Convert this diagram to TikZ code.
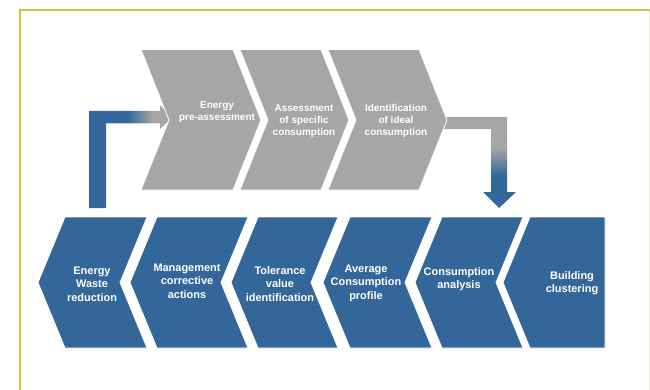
\documentclass[tikz,border=0pt]{standalone}
\usepackage{fontspec}
\setmainfont{Liberation Sans}
\usetikzlibrary{calc}

\definecolor{stepgray}{HTML}{A6A6A6}
\definecolor{stepblue}{HTML}{346799}
\definecolor{framegreen}{HTML}{C8C832}
\definecolor{framepale}{HTML}{E8E8BC}

% gradients of the two bent arrows
\pgfdeclarehorizontalshading{returnshade}{100bp}{color(0bp)=(stepblue); color(48bp)=(stepblue); color(63bp)=(stepgray); color(100bp)=(stepgray)}
\pgfdeclareverticalshading{forwardshade}{100bp}{color(0bp)=(stepblue); color(43bp)=(stepblue); color(58bp)=(stepgray); color(100bp)=(stepgray)}

\begin{document}
\begin{tikzpicture}[x=1bp,y=-1bp,
  topstep/.style={fill=stepgray, draw=white, line width=0.8bp},
  botstep/.style={fill=stepblue, draw=white, line width=0.8bp},
  toptext/.style={text=white, font=\fontsize{10}{12}\selectfont\bfseries, align=center, inner sep=0},
  bottext/.style={text=white, font=\fontsize{11}{13.5}\selectfont\bfseries, align=center, inner sep=0}]

\useasboundingbox (0,0) rectangle (650,389);

% frame
\draw[framegreen, line width=1.8bp] (19.8,400) -- (19.8,10.2) -- (652,10.2);
\draw[framepale, line width=0.8bp] (649.3,11) -- (649.3,400);

% end points of the bent arrows
\coordinate (back-foot) at (97.5,208);
\coordinate (back-tip) at (173,117);
\coordinate (fwd-tip) at (499,208);
\coordinate (ideal-tip) at (447,120);

% bent arrows (drawn first, the steps cover their ends)
\shade[shading=returnshade] ($(back-foot)+(-8.5,0)$) |- ($(back-tip)+(-13,-6.25)$) -- ++(0,-5.5)
  -- (back-tip) -- ++(-13,12) -- ++(0,-5.75) -| ($(back-foot)+(8.5,0)$) -- cycle;
\shade[shading=forwardshade] ($(ideal-tip)+(-10,-3)$) -| ($(fwd-tip)+(8,-16)$) -- ++(9,0)
  -- (fwd-tip) -- ++(-16,-16) -- ++(8,0) |- ($(ideal-tip)+(-10,9)$) -- cycle;

% upper row: assessment steps
\foreach \n/\xl/\xr/\tx/\ty/\txt in {
  pre/141/233/217/112/Energy\\pre-assessment,
  spec/240/321/304/121/Assessment\\of specific\\consumption,
  ideal/328/419/396/121/Identification\\of ideal\\consumption}{
  \draw[topstep] (\xl,49.5) -- (\xr,49.5) -- (\xr+28,120) -- (\xr,190) -- (\xl,190) -- (\xl+28,120) -- cycle;
  \node[toptext] (\n) at (\tx,\ty) {\txt};
}

% lower row: analysis steps, running right to left
\foreach \n/\xl/\xr/\nd/\tx/\ty/\txt in {
  waste/65/147/27/92/284/Energy\\Waste\\reduction,
  manage/157/248/27/187/281/Management\\corrective\\actions,
  toler/258/338/27/280/284/Tolerance\\value\\identification,
  avg/350/432/27/366/283/Average\\Consumption\\profile,
  anal/442/523/27/459/279/Consumption\\analysis,
  clust/530/605/0/572/283/Building\\clustering}{
  \draw[botstep] (\xl,217) -- (\xr,217) -- (\xr-\nd,282.5) -- (\xr,348) -- (\xl,348) -- (\xl-27,282.5) -- cycle;
  \node[bottext] (\n) at (\tx,\ty) {\txt};
}
\end{tikzpicture}
\end{document}
